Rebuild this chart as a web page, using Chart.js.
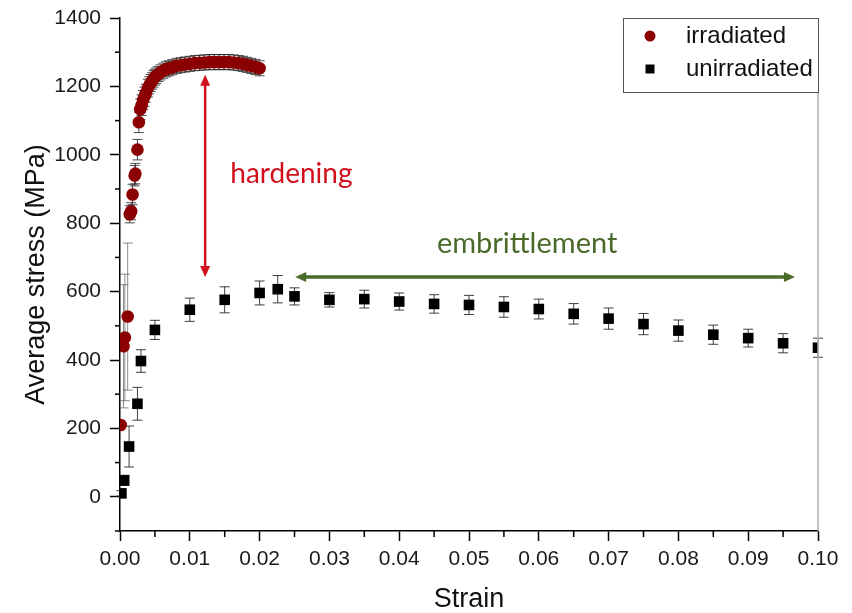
<!DOCTYPE html>
<html>
<head>
<meta charset="utf-8">
<script src="https://cdn.jsdelivr.net/npm/chart.js@4.4.1/dist/chart.umd.min.js"></script>
<style>
body{margin:0;background:#fff}
#wrap{width:852px;height:613px}
</style>
</head>
<body>
<div id="wrap"><canvas id="myChart"></canvas></div>
<script>
// irradiated : strain, stress (MPa), error bar (+/- MPa)
const irrStrain = [0.0001,0.0005,0.0007,0.0011,0.0014,0.0016,0.0018,0.0021,0.0022,0.0025,0.0027,
    0.0029,0.0031,0.0033,0.0035,0.0037,0.0040,0.0042,0.0044,0.0046,0.0048,
    0.0050,0.0052,0.0055,0.0058,0.0062,0.0066,0.0070,0.0075,0.0081,0.0087,
    0.0093,0.0100,0.0107,0.0114,0.0121,0.0128,0.0135,0.0142,0.0149,0.0156,
    0.0163,0.0170,0.0176,0.0182,0.0188,0.0194,0.0200]
const irrStress = [210,440,466,527,826,835,884,939,945,1015,1095,
    1133,1145,1160,1170,1180,1195,1203,1210,1216,1222,
    1227,1231,1236,1241,1246,1250,1253,1256,1260,1262,
    1264,1266,1268,1269,1270,1271,1271,1271,1271,1271,
    1270,1268,1266,1263,1260,1257,1253]
const irrErr = [0,180,185,215,25,25,30,30,30,30,30,
    30,30,28,28,26,26,25,25,24,24,
    23,23,22,22,22,22,22,22,22,22,
    22,22,22,22,22,22,22,22,22,22,
    22,22,22,22,22,22,22]

// unirradiated
const unirrStrain = [0.0002,0.0006,0.0013,0.0025,0.003,0.005,0.01,0.015,0.02,0.0226,0.025,
    0.03,0.035,0.04,0.045,0.05,0.055,0.06,0.065,0.07,0.075,0.08,0.085,0.09,0.095,0.10]
const unirrStress = [10,48,147,272,397,488,547,576,596,607,586,
    576,578,571,564,561,555,549,535,521,505,486,474,464,449,436]
const unirrErr = [8,15,60,48,33,28,34,38,35,40,25,
    21,26,25,27,28,30,29,30,31,31,31,28,26,28,28]

const xTickLabels = ['0.00','0.01','0.02','0.03','0.04','0.05','0.06','0.07','0.08','0.09','0.10']
const yTickLabels = ['0','200','400','600','800','1000','1200','1400']

// annotations (data units)
const hardeningArrow = {x: 0.0122, from: 1234, to: 643}
const hardeningText = {x: 0.0158, y: 918, text: 'hardening'}
const embrittArrow = {y: 643, from: 0.0251, to: 0.0967}
const embrittText = {x: 0.0454, y: 713, text: 'embrittlement'}

const RED = '#8b0000'
const ARROW_RED = '#d0101c'
const GREEN = '#4a6a2a'

function toPoints(xs, ys, es){
    return xs.map((x, i) => ({x: x, y: ys[i], e: es[i]}))
}

//************ error bars, drawn under the markers ************//
const errorBars = {
    id: 'errorBars',
    beforeDatasetsDraw(chart){
        const {ctx, scales: {x, y}} = chart
        chart.data.datasets.forEach(ds => {
            ctx.save()
            ctx.lineWidth = 1
            ds.data.forEach(p => {
                if (!p.e) return
                const px = x.getPixelForValue(p.x)
                const top = y.getPixelForValue(p.y + p.e)
                const bot = y.getPixelForValue(p.y - p.e)
                // the very large bars near the origin are lighter in the figure
                ctx.strokeStyle = p.e > 100 ? 'rgba(90,90,90,0.7)' : ds.errColor
                ctx.beginPath()
                ctx.moveTo(px, top); ctx.lineTo(px, bot)
                ctx.moveTo(px - 5, top); ctx.lineTo(px + 5, top)
                ctx.moveTo(px - 5, bot); ctx.lineTo(px + 5, bot)
                ctx.stroke()
            })
            ctx.restore()
        })
    }
}

function arrowHead(ctx, x, y, dx, dy, color){
    // dx,dy : direction unit vector of the tip
    const len = 11, half = 5
    ctx.beginPath()
    ctx.moveTo(x, y)
    ctx.lineTo(x - dx*len - dy*half, y - dy*len + dx*half)
    ctx.lineTo(x - dx*len + dy*half, y - dy*len - dx*half)
    ctx.closePath()
    ctx.fillStyle = color
    ctx.fill()
}

function isMajorX(v){
    return Math.abs(v*100 - Math.round(v*100)) < 1e-6
}

//************ minor ticks, frame, legend, annotations ************//
const decorations = {
    id: 'decorations',
    afterDraw(chart){
        const {ctx, chartArea: a, scales: {x, y}} = chart
        ctx.save()
        // right frame line
        ctx.strokeStyle = '#b0b0b0'
        ctx.lineWidth = 1.5
        ctx.beginPath(); ctx.moveTo(a.right, a.top); ctx.lineTo(a.right, a.bottom); ctx.stroke()
        // minor ticks
        ctx.strokeStyle = '#000'
        ctx.lineWidth = 1.5
        x.ticks.forEach(t => {
            if (isMajorX(t.value)) return
            const px = x.getPixelForValue(t.value)
            ctx.beginPath(); ctx.moveTo(px, a.bottom); ctx.lineTo(px, a.bottom + 6); ctx.stroke()
        })
        y.ticks.forEach(t => {
            if (yTickLabels.indexOf(String(t.value)) >= 0) return
            const py = y.getPixelForValue(t.value)
            ctx.beginPath(); ctx.moveTo(a.left, py); ctx.lineTo(a.left - 5, py); ctx.stroke()
        })

        // hardening arrow
        const hx = x.getPixelForValue(hardeningArrow.x)
        const hy1 = y.getPixelForValue(hardeningArrow.from)
        const hy2 = y.getPixelForValue(hardeningArrow.to)
        ctx.strokeStyle = ARROW_RED
        ctx.lineWidth = 2.5
        ctx.beginPath(); ctx.moveTo(hx, hy1 + 8); ctx.lineTo(hx, hy2 - 8); ctx.stroke()
        arrowHead(ctx, hx, hy1, 0, -1, ARROW_RED)
        arrowHead(ctx, hx, hy2, 0, 1, ARROW_RED)
        ctx.font = '28px Lato'
        ctx.fillStyle = ARROW_RED
        ctx.textBaseline = 'alphabetic'
        ctx.fillText(hardeningText.text, x.getPixelForValue(hardeningText.x), y.getPixelForValue(hardeningText.y))

        // embrittlement arrow
        const ey = y.getPixelForValue(embrittArrow.y)
        const ex1 = x.getPixelForValue(embrittArrow.from)
        const ex2 = x.getPixelForValue(embrittArrow.to)
        ctx.strokeStyle = GREEN
        ctx.lineWidth = 3.5
        ctx.beginPath(); ctx.moveTo(ex1 + 8, ey); ctx.lineTo(ex2 - 8, ey); ctx.stroke()
        arrowHead(ctx, ex1, ey, -1, 0, GREEN)
        arrowHead(ctx, ex2, ey, 1, 0, GREEN)
        ctx.font = '29px Lato'
        ctx.fillStyle = GREEN
        ctx.fillText(embrittText.text, x.getPixelForValue(embrittText.x), y.getPixelForValue(embrittText.y))

        // legend box (top right, inside the plot)
        const lw = 195, lh = 74
        const lx = a.right - lw, ly = a.top
        ctx.fillStyle = '#fff'
        ctx.fillRect(lx, ly, lw, lh)
        ctx.strokeStyle = '#555'
        ctx.lineWidth = 1
        ctx.strokeRect(lx + 0.5, ly + 0.5, lw, lh)
        ctx.font = '24px "Liberation Sans", Arial'
        ctx.textBaseline = 'middle'
        chart.data.datasets.forEach((ds, i) => {
            const cy = ly + 18 + i*33
            ctx.fillStyle = ds.backgroundColor
            if (ds.pointStyle === 'circle') {
                ctx.beginPath(); ctx.arc(lx + 27, cy, 5.5, 0, Math.PI*2); ctx.fill()
            } else {
                ctx.fillRect(lx + 22.5, cy - 4.5, 9, 9)
            }
            ctx.fillStyle = '#111'
            ctx.fillText(ds.label, lx + 63, cy)
        })
        ctx.restore()
    }
}

let ctx = document.getElementById('myChart')
let myChart = new Chart(ctx, {
    type: 'scatter',
    data: {
        datasets: [
            {
                label: 'irradiated',
                data: toPoints(irrStrain, irrStress, irrErr),
                pointStyle: 'circle',
                pointRadius: 6.3,
                borderWidth: 0,
                backgroundColor: RED,
                borderColor: RED,
                errColor: 'rgba(30,30,30,0.8)'
            },
            {
                label: 'unirradiated',
                data: toPoints(unirrStrain, unirrStress, unirrErr),
                pointStyle: 'rect',
                pointRadius: 7.5,
                borderWidth: 0,
                backgroundColor: '#000',
                borderColor: '#000',
                errColor: 'rgba(30,30,30,0.85)'
            }
        ]
    },
    options: {
        responsive: true,
        maintainAspectRatio: false,
        animation: false,
        layout: {padding: {top: 18, right: 34, left: 0, bottom: 0}},
        plugins: {legend: {display: false}, tooltip: {enabled: false}},
        scales: {
            x: {
                type: 'linear',
                min: 0, max: 0.10,
                afterFit: s => { s.height = 82 },
                border: {display: true, color: '#000', width: 1.5},
                grid: {drawOnChartArea: false, tickLength: 10, tickWidth: 1.5,
                    tickColor: c => (c.tick && isMajorX(c.tick.value)) ? '#000' : 'rgba(0,0,0,0)'},
                ticks: {
                    stepSize: 0.005,
                    maxRotation: 0,
                    autoSkip: false,
                    padding: 6,
                    color: '#1a1a1a',
                    font: {family: '"Liberation Sans", Arial', size: 21},
                    callback: v => isMajorX(v) ? xTickLabels[Math.round(v*100)] : ''
                },
                title: {display: true, text: 'Strain', color: '#111',
                    font: {family: '"Liberation Sans", Arial', size: 27, lineHeight: 1}, padding: {top: 0, bottom: 0}}
            },
            y: {
                type: 'linear',
                min: -100, max: 1400,
                // fixed width, and keep the label padding from pushing the plot top down
                afterFit: s => { s.width = 120; s.paddingTop = 10; s.paddingBottom = 10 },
                border: {display: true, color: '#000', width: 1.5},
                grid: {drawOnChartArea: false, tickLength: 10, tickWidth: 1.5,
                    tickColor: c => (c.tick && yTickLabels.indexOf(String(c.tick.value)) >= 0) ? '#000' : 'rgba(0,0,0,0)'},
                ticks: {
                    stepSize: 100,
                    autoSkip: false,
                    padding: 9,
                    color: '#1a1a1a',
                    font: {family: '"Liberation Sans", Arial', size: 21},
                    callback: v => yTickLabels.indexOf(String(v)) >= 0 ? String(v) : ''
                },
                title: {display: true, text: 'Average stress (MPa)', color: '#111',
                    font: {family: '"Liberation Sans", Arial', size: 27}, padding: {top: 20, bottom: 0}}
            }
        }
    },
    plugins: [errorBars, decorations]
})
</script>
</body>
</html>
